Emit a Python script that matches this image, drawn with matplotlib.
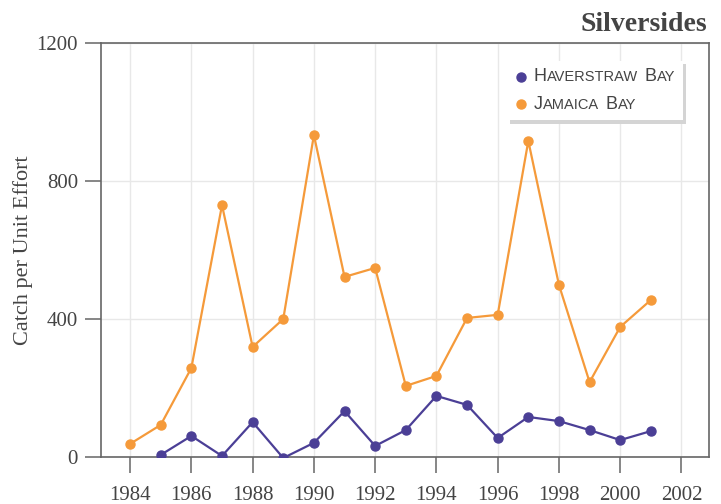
import matplotlib
matplotlib.use("Agg")
import matplotlib.pyplot as plt
import matplotlib.patheffects as pe
from matplotlib.offsetbox import TextArea, HPacker, VPacker, DrawingArea, AnchoredOffsetbox
from matplotlib.lines import Line2D

plt.rcParams['font.family'] = ['Liberation Serif', 'DejaVu Serif']

# catch per unit effort
haverstraw = {
    1985: 6, 1986: 61, 1987: 3, 1988: 101, 1989: -3, 1990: 41, 1991: 133,
    1992: 32, 1993: 78, 1994: 177, 1995: 151, 1996: 55, 1997: 116,
    1998: 104, 1999: 78, 2000: 49, 2001: 75,
}
jamaica = {
    1984: 38, 1985: 93, 1986: 258, 1987: 730, 1988: 319, 1989: 400,
    1990: 933, 1991: 522, 1992: 548, 1993: 206, 1994: 235, 1995: 403,
    1996: 412, 1997: 916, 1998: 499, 1999: 217, 2000: 377, 2001: 455,
}

purple = "#4b3f96"
orange = "#f59a3a"
txt = "#444444"
spine = "#666666"

fig = plt.figure(figsize=(7.21, 5.04), dpi=100)
ax = fig.add_axes([0.1401, 0.0933, 0.8433, 0.8214])

ax.plot(list(jamaica.keys()), list(jamaica.values()), color=orange, lw=1.6,
        marker="o", ms=6.5, zorder=3)
ax.plot(list(haverstraw.keys()), list(haverstraw.values()), color=purple, lw=1.6,
        marker="o", ms=6.5, zorder=3)

ax.set_xlim(1983.05, 2002.9)
ax.set_ylim(0, 1200)
ax.set_xticks(range(1984, 2003, 2))
ax.set_yticks([0, 400, 800, 1200])
ax.grid(True, color="#e8e8e8", lw=1)
ax.set_axisbelow(True)
for s in ax.spines.values():
    s.set_color(spine)
    s.set_linewidth(1.2)
ax.tick_params(length=11.5, width=1.1, color=spine, labelcolor=txt, labelsize=15)
ax.tick_params(axis="x", pad=9.5)
ax.tick_params(axis="y", pad=5)
ax.set_ylabel("Catch per Unit Effort", fontsize=16, color=txt)
ax.yaxis.set_label_coords(-0.112, 0.5)

fig.text(0.981, 0.939, "Silversides", ha="right", va="baseline", fontsize=20,
         fontweight="bold", color=txt)


def smallcaps(label, big=13, small=10.5):
    words = []
    for w in label.split():
        parts = [TextArea(w[0], textprops=dict(size=big, color=txt, family="Liberation Sans"))]
        if len(w) > 1:
            parts.append(TextArea(w[1:].upper(), textprops=dict(size=small, color=txt, family="Liberation Sans")))
        words.append(HPacker(children=parts, align="baseline", pad=0, sep=0))
    return HPacker(children=words, align="baseline", pad=0, sep=5)


rows = []
for name, col in [("Haverstraw Bay", purple), ("Jamaica Bay", orange)]:
    da = DrawingArea(9, 10, 0, 0)
    da.add_artist(Line2D([4.5], [5], marker="o", ms=6.5, color=col))
    rows.append(HPacker(children=[da, smallcaps(name)], align="center", pad=0, sep=5))
box = VPacker(children=rows, align="left", pad=0, sep=7.5)
anch = AnchoredOffsetbox(loc="upper right", child=box, pad=0.55, borderpad=0, frameon=True,
                         bbox_to_anchor=(0.957, 0.957), bbox_transform=ax.transAxes)
anch.patch.set_boxstyle("square", pad=0)
anch.patch.set_edgecolor("none")
anch.patch.set_facecolor("white")
anch.patch.set_path_effects([pe.SimplePatchShadow(offset=(2.2, -2.2), shadow_rgbFace="#d4d4d4", alpha=1),
                             pe.Normal()])
anch.zorder = 5
ax.add_artist(anch)

fig.savefig("out.png", dpi=100)
